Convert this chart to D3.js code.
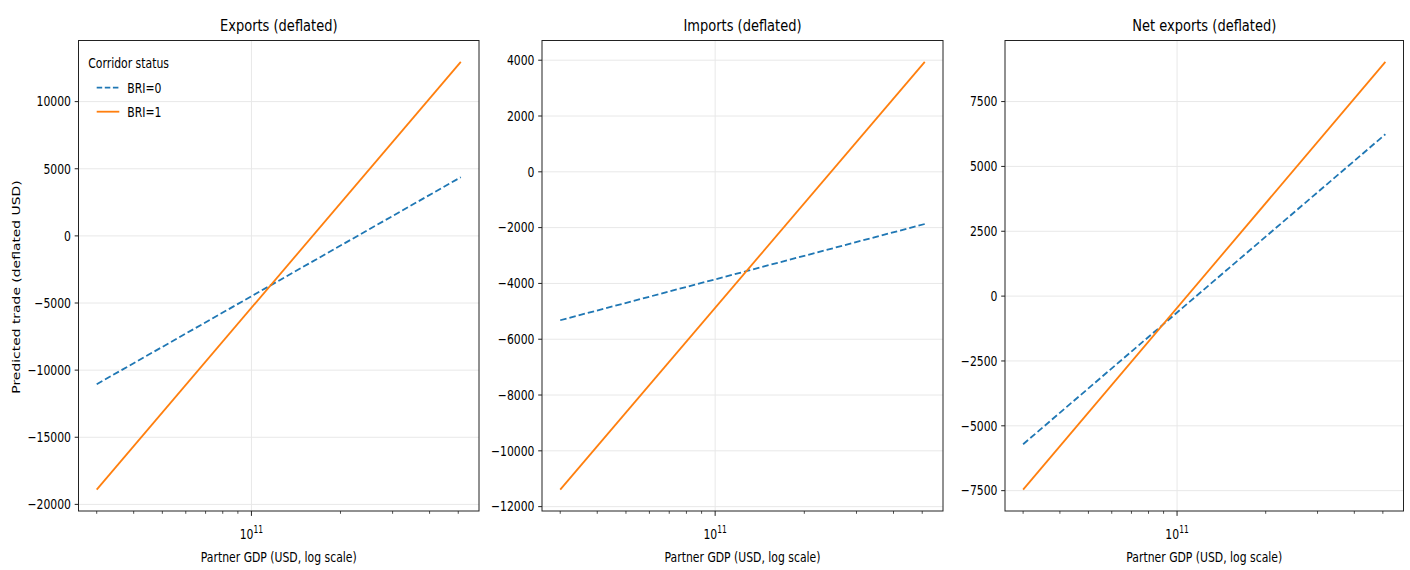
<!DOCTYPE html>
<html>
<head>
<meta charset="utf-8">
<script src="https://cdn.jsdelivr.net/npm/d3@7"></script>
<style>
  body { margin: 0; background: #fff; }
  text { font-family: "DejaVu Sans", sans-serif; fill: #000; }
</style>
</head>
<body>
<div id="chart"></div>
<script>
// figure size
const width = 1410
const height = 570

// data (partner GDP grid, predicted trade)
const gdpGrid = [3e10, 5.1e11]
const exportsBRI0 = [-11050, 4370]
const exportsBRI1 = [-18900, 12960]
const importsBRI0 = [-5320, -1870]
const importsBRI1 = [-11390, 3940]
const netBRI0 = [-5710, 6240]
const netBRI1 = [-7460, 9030]

const panelTitles = ["Exports (deflated)", "Imports (deflated)", "Net exports (deflated)"]
const yTicksExports = [-20000, -15000, -10000, -5000, 0, 5000, 10000]
const yTicksImports = [-12000, -10000, -8000, -6000, -4000, -2000, 0, 2000, 4000]
const yTicksNet = [-7500, -5000, -2500, 0, 2500, 5000, 7500]
const xMajorTicks = [1e11]
const xMinorTicks = [2e10, 3e10, 4e10, 5e10, 6e10, 7e10, 8e10, 9e10, 2e11, 3e11, 4e11, 5e11, 6e11, 7e11]
const seriesNames = ["BRI=0", "BRI=1"]
const legendTitle = "Corridor status"

// layout (picture is squeezed horizontally, so text gets scaled in x)
const SX = 0.78
const plotTop = 40.5, plotBottom = 511
const lefts = [78.5, 542, 1005]
const widths = [400.5, 401, 398.5]
const blue = "#1f77b4", orange = "#ff7f0e"

const panels = [
  { title: panelTitles[0], s0: exportsBRI0, s1: exportsBRI1, ticks: yTicksExports },
  { title: panelTitles[1], s0: importsBRI0, s1: importsBRI1, ticks: yTicksImports },
  { title: panelTitles[2], s0: netBRI0, s1: netBRI1, ticks: yTicksNet }
]

var svg = d3.select("#chart")
  .append("svg")
  .attr("width", width)
  .attr("height", height)

// squeezed text helper
function txt(g, x, y, s, size, anchor) {
  return g.append("text")
    .attr("transform", "translate(" + x + "," + y + ") scale(" + SX + ",1)")
    .attr("text-anchor", anchor || "middle")
    .style("font-size", size + "px")
    .text(s)
}

function fmt(v) {
  return v < 0 ? "\u2212" + Math.abs(v) : String(v)
}

panels.forEach(function(p, i) {
  var left = lefts[i], right = lefts[i] + widths[i]
  var g = svg.append("g")

  // matplotlib style 5% margins (log space on x)
  var l0 = Math.log10(gdpGrid[0]), l1 = Math.log10(gdpGrid[gdpGrid.length - 1])
  var lp = (l1 - l0) * 0.05
  var x = d3.scaleLog()
    .domain([Math.pow(10, l0 - lp), Math.pow(10, l1 + lp)])
    .range([left, right])

  var all = p.s0.concat(p.s1)
  var ymin = d3.min(all), ymax = d3.max(all), yp = (ymax - ymin) * 0.05
  var y = d3.scaleLinear()
    .domain([ymin - yp, ymax + yp])
    .range([plotBottom, plotTop])

  // grid
  g.selectAll(".hgrid").data(p.ticks).enter().append("line")
    .attr("x1", left).attr("x2", right)
    .attr("y1", d => y(d)).attr("y2", d => y(d))
    .attr("stroke", "#e8e8e8").attr("stroke-width", 1)
  g.selectAll(".vgrid").data(xMajorTicks).enter().append("line")
    .attr("x1", d => x(d)).attr("x2", d => x(d))
    .attr("y1", plotTop).attr("y2", plotBottom)
    .attr("stroke", "#e8e8e8").attr("stroke-width", 1)

  // lines
  var line0 = d3.line().x((d, k) => x(gdpGrid[k])).y(d => y(d))
  g.append("path").datum(p.s0)
    .attr("d", line0)
    .attr("fill", "none")
    .attr("stroke", blue)
    .attr("stroke-width", 1.8)
    .attr("stroke-dasharray", "6.5,3")
  g.append("path").datum(p.s1)
    .attr("d", line0)
    .attr("fill", "none")
    .attr("stroke", orange)
    .attr("stroke-width", 1.8)

  // frame
  g.append("rect")
    .attr("x", left).attr("y", plotTop)
    .attr("width", right - left).attr("height", plotBottom - plotTop)
    .attr("fill", "none").attr("stroke", "#222").attr("stroke-width", 1)

  // y ticks
  p.ticks.forEach(function(t) {
    g.append("line")
      .attr("x1", left - 3.8).attr("x2", left)
      .attr("y1", y(t)).attr("y2", y(t))
      .attr("stroke", "#222").attr("stroke-width", 1)
    txt(g, left - 7.5, y(t) + 4.8, fmt(t), 13.9, "end")
  })

  // x ticks
  xMinorTicks.filter(t => x(t) >= left && x(t) <= right).forEach(function(t) {
    g.append("line")
      .attr("x1", x(t)).attr("x2", x(t))
      .attr("y1", plotBottom).attr("y2", plotBottom + 2.8)
      .attr("stroke", "#222").attr("stroke-width", 0.8)
  })
  xMajorTicks.forEach(function(t) {
    g.append("line")
      .attr("x1", x(t)).attr("x2", x(t))
      .attr("y1", plotBottom).attr("y2", plotBottom + 4.9)
      .attr("stroke", "#222").attr("stroke-width", 1)
    var lab = txt(g, x(t), 539, "", 13.9, "middle")
    lab.append("tspan").text("10")
    lab.append("tspan").attr("dy", -6).style("font-size", "9.7px").text(Math.round(Math.log10(t)))
  })

  // title & x label
  txt(g, (left + right) / 2, 31, p.title, 16.7, "middle")
  txt(g, (left + right) / 2, 562, "Partner GDP (USD, log scale)", 13.9, "middle")

  // legend in the first panel
  if (i === 0) {
    txt(g, 88.3, 68, legendTitle, 13.9, "start")
    g.append("line")
      .attr("x1", 96.7).attr("x2", 119.3).attr("y1", 87.7).attr("y2", 87.7)
      .attr("stroke", blue).attr("stroke-width", 1.8).attr("stroke-dasharray", "5.5,2.6")
    txt(g, 127.3, 93, seriesNames[0], 13.9, "start")
    g.append("line")
      .attr("x1", 96.7).attr("x2", 119.3).attr("y1", 111.7).attr("y2", 111.7)
      .attr("stroke", orange).attr("stroke-width", 1.8)
    txt(g, 127.3, 117, seriesNames[1], 13.9, "start")
  }
})

// shared y label
svg.append("text")
  .attr("transform", "translate(20,287) scale(" + SX + ",1) rotate(-90)")
  .attr("text-anchor", "middle")
  .style("font-size", "13.9px")
  .text("Predicted trade (deflated USD)")
</script>
</body>
</html>
